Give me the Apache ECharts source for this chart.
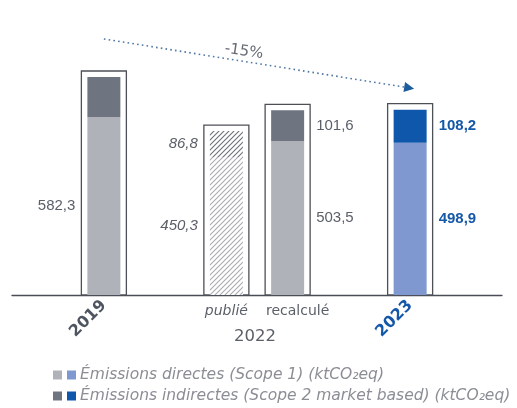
<!DOCTYPE html>
<html><head><meta charset="utf-8">
<script src="https://cdn.jsdelivr.net/npm/echarts@6/dist/echarts.min.js"></script>
<style>html,body{margin:0;padding:0;background:#fff}#c{width:517px;height:408px}</style>
</head><body><div id="c"></div>
<script>
// ---- data ----
const categories = ['2019', 'publié', 'recalculé', '2023'];
const scope1 = [582.3, 450.3, 503.5, 498.9];   // Émissions directes
const scope2 = [132, 86.8, 101.6, 108.2];      // Émissions indirectes (2019 not labelled, estimated)
const scope1Labels = ['582,3', '450,3', '503,5', '498,9'];
const scope2Labels = ['', '86,8', '101,6', '108,2'];
const groupLabel = '2022';
const changeLabel = '-15%';
const seriesNames = ['Émissions directes (Scope 1) (ktCO₂eq)', 'Émissions indirectes (Scope 2 market based) (ktCO₂eq)'];

// ---- layout (slots on the category axis) ----
const slotCount = 8;
const slotOf = [1, 3, 4, 6];
const axisData = [];
for (let i = 0; i < slotCount; i++) axisData.push(' '.repeat(i + 1));
slotOf.forEach((s, i) => axisData[s] = categories[i]);
function spread(arr) { const out = new Array(slotCount).fill(null); slotOf.forEach((s, i) => out[s] = arr[i]); return out; }

const GRAY_L = '#b0b2ba', GRAY_D = '#6f7580', BLUE_L = '#7f98d0', BLUE_D = '#0f57aa';
const TXT = '#5a5f68', BLUE_T = '#1558a8';

function hatch(bg, fg) {
  const c = document.createElement('canvas'); c.width = 5; c.height = 5;
  const g = c.getContext('2d');
  g.fillStyle = bg; g.fillRect(0, 0, 5, 5);
  g.strokeStyle = fg; g.lineWidth = 1.1;
  g.beginPath(); g.moveTo(-1, 6); g.lineTo(6, -1); g.moveTo(-1, 1); g.lineTo(1, -1); g.moveTo(4, 6); g.lineTo(6, 4); g.stroke();
  return c;
}
const hatchL = hatch('#ffffff', '#a9abb1');
const hatchD = hatch('#ffffff', '#6c7078');

function item(v, i, which) {
  if (v == null) return null;
  const idx = slotOf.indexOf(i);
  const cat = categories[idx];
  const o = { value: v, itemStyle: {}, label: {} };
  if (cat === '2023') {
    o.itemStyle.color = which === 1 ? BLUE_L : BLUE_D;
    o.label = { color: BLUE_T, fontWeight: 'bold', fontSize: 15 };
  } else if (cat === 'publié') {
    o.itemStyle.color = { image: which === 1 ? hatchL : hatchD, repeat: 'repeat' };
    o.label = { position: 'left', fontStyle: 'italic' };
  } else if (cat === '2019') {
    o.label = { position: 'left' };
  }
  return o;
}

const totals = scope1.map((v, i) => v + scope2[i]);
const boxData = slotOf.map((s, i) => [s, totals[i]]);

const chart = echarts.init(document.getElementById('c'), null, { renderer: 'canvas' });
const numFont = 'Liberation Sans';

function legendFor(i, top) {
  return {
    orient: 'horizontal', left: 53, top: top, itemWidth: 9, itemHeight: 9, itemGap: 6,
    icon: 'rect', selectedMode: false, padding: 0,
    data: [seriesNames[i]],
    formatter: name => '{sq|}{t|' + name + '}',
    textStyle: {
      padding: [0, 0, 0, 0],
      rich: {
        sq: { width: 9, height: 9, backgroundColor: i === 0 ? BLUE_L : BLUE_D },
        t: { color: '#8b8e95', fontStyle: 'italic', fontSize: 15.5, fontFamily: 'DejaVu Sans', padding: [0, 0, 0, 4] }
      }
    }
  };
}

chart.setOption({
  animation: false,
  grid: { left: 12, right: 15, top: 60, bottom: 113 },
  xAxis: [{
    type: 'category', data: axisData,
    axisLine: { lineStyle: { color: '#4a4d55', width: 1.3 } },
    axisTick: { show: false },
    axisLabel: {
      interval: 0, rotate: 45, margin: 8,
      formatter: v => v === '2019' ? '{a|2019}' : v === '2023' ? '{b|2023}' : '',
      rich: {
        a: { color: '#4f5560', fontWeight: 'bold', fontSize: 16, fontFamily: 'DejaVu Sans' },
        b: { color: BLUE_T, fontWeight: 'bold', fontSize: 16, fontFamily: 'DejaVu Sans' }
      }
    }
  }, {
    type: 'category', data: axisData, position: 'bottom',
    axisLine: { show: false }, axisTick: { show: false },
    name: groupLabel, nameLocation: 'middle', nameGap: 33,
    nameTextStyle: { color: TXT, fontSize: 16.5, fontFamily: 'DejaVu Sans', padding: [0, 4, 0, 0] },
    axisLabel: {
      interval: 0, margin: 9,
      formatter: v => v === 'publié' ? '{i|publié}' : v === 'recalculé' ? '{n|recalculé}' : '',
      rich: {
        i: { color: TXT, fontStyle: 'italic', fontSize: 14, fontFamily: 'DejaVu Sans' },
        n: { color: TXT, fontSize: 14, fontFamily: 'DejaVu Sans', padding: [0, 0, 0, 20] }
      }
    }
  }],
  yAxis: { type: 'value', min: 0, max: 770, show: false },
  legend: [legendFor(0, 367), legendFor(1, 388)],
  series: [{
    type: 'custom', name: 'box', z: 1, silent: true,
    data: boxData,
    renderItem: (params, api) => {
      const p = api.coord([api.value(0), api.value(1)]);
      const b = api.coord([api.value(0), 0]);
      return { type: 'rect', shape: { x: p[0] - 22.5, y: p[1] - 6, width: 45, height: b[1] - p[1] + 6 },
        style: { fill: '#fff', stroke: '#4e5058', lineWidth: 1.3 } };
    }
  }, {
    type: 'bar', name: seriesNames[0], stack: 's', barWidth: 33, z: 3,
    itemStyle: { color: GRAY_L },
    label: { show: true, position: 'right', distance: 12, color: TXT, fontSize: 15, fontFamily: numFont,
      formatter: p => scope1Labels[slotOf.indexOf(p.dataIndex)] },
    data: spread(scope1).map((v, i) => item(v, i, 1))
  }, {
    type: 'bar', name: seriesNames[1], stack: 's', barWidth: 33, z: 3,
    itemStyle: { color: GRAY_D },
    label: { show: true, position: 'right', distance: 12, color: TXT, fontSize: 15, fontFamily: numFont,
      formatter: p => scope2Labels[slotOf.indexOf(p.dataIndex)] },
    data: spread(scope2).map((v, i) => item(v, i, 2))
  }]
});

// ---- trend arrow annotation ----
const x0 = chart.convertToPixel({ xAxisIndex: 0 }, axisData[slotOf[0]]);
const x1 = chart.convertToPixel({ xAxisIndex: 0 }, axisData[slotOf[3]]);
const y0 = 39, y1 = 88;
const ang = Math.atan2(y1 - y0, x1 - x0);
const hx = x1 + 4, hy = y1 + 4 * Math.tan(ang);
chart.setOption({
  graphic: [
    { type: 'line', shape: { x1: x0, y1: y0, x2: x1 - 6, y2: y1 - 6 * Math.tan(ang) },
      style: { stroke: '#4f78a6', lineWidth: 1.6, lineDash: [1.6, 3.2] } },
    { type: 'polygon', x: hx, y: hy, rotation: -ang,
      shape: { points: [[0, 0], [-10, -5], [-10, 5]] }, style: { fill: '#1f5c9c' } },
    { type: 'text', x: (x0 + x1) / 2 - 13, y: (y0 + y1) / 2 - 12, rotation: -0.15,
      style: { text: changeLabel, fill: '#656a73', fontSize: 15, fontFamily: 'DejaVu Sans', align: 'center', verticalAlign: 'middle' } }
  ]
});
</script></body></html>
